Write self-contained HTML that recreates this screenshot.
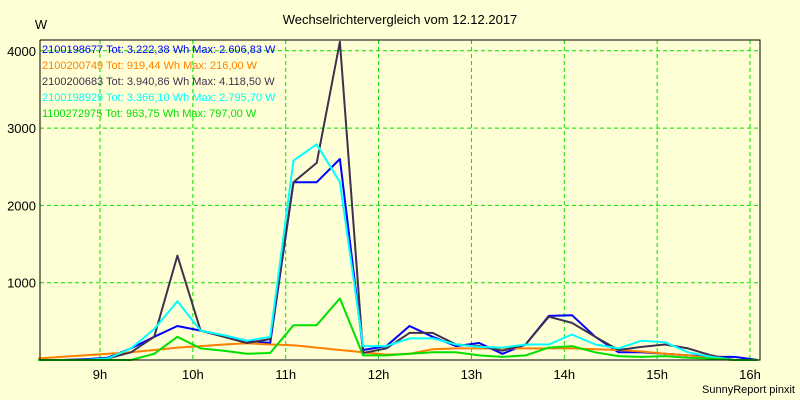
<!DOCTYPE html>
<html><head><meta charset="utf-8"><style>
html,body{margin:0;padding:0;background:#ffffd5;}
svg{display:block;font-family:"Liberation Sans",sans-serif;}
</style></head><body>
<svg id="chart" width="800" height="400" viewBox="0 0 800 400">
<rect x="0" y="0" width="800" height="400" fill="#ffffd5"/>
<text x="400" y="24" font-size="13" text-anchor="middle">Wechselrichtervergleich vom 12.12.2017</text>
<text x="41" y="29" font-size="13" text-anchor="middle">W</text>
<g id="grid"></g>
<g id="series"></g>
<g id="axes"></g>
<g id="legend"></g>
<text x="795" y="393" font-size="11" text-anchor="end">SunnyReport pinxit</text>
</svg>
<script>
const startHour = 8 + 20/60;
const stepHour = 0.25;
const xTicks = [9,10,11,12,13,14,15,16];
const xTickLabels = ["9h","10h","11h","12h","13h","14h","15h","16h"];
const yTicks = [1000,2000,3000,4000];
const seriesNames = ["2100198677","2100200749","2100200683","2100198929","1100272975"];
const legendTexts = ["Tot: 3.222,38 Wh Max: 2.606,83 W","Tot: 919,44 Wh Max: 216,00 W","Tot: 3.940,86 Wh Max: 4.118,50 W","Tot: 3.366,10 Wh Max: 2.795,70 W","Tot: 963,75 Wh Max: 797,00 W"];
const blueValues = [0,0,10,30,150,300,440,380,320,250,220,2300,2300,2600,130,180,440,300,180,220,80,200,570,580,300,100,100,80,60,40,40,0];
const orangeValues = [20,40,60,80,100,130,160,180,200,216,200,190,160,130,100,70,80,140,150,150,150,150,150,150,140,130,110,80,60,20,0,0];
const purpleValues = [0,0,0,20,100,300,1350,380,300,220,270,2300,2550,4118,90,150,350,350,200,180,120,200,560,480,300,130,170,200,150,60,0,0];
const cyanValues = [0,0,0,20,150,400,760,380,320,250,300,2580,2790,2300,180,180,280,280,200,170,160,200,200,330,200,150,250,230,100,40,0,0];
const greenValues = [0,0,0,0,0,80,300,150,120,80,90,450,450,797,60,60,80,100,100,60,40,60,160,180,100,50,40,50,30,20,0,0];

const colors = ["#0000ff","#ff8000","#403050","#00ffff","#00e000"];
const allSeries = [blueValues,orangeValues,purpleValues,cyanValues,greenValues];
const seriesKeys = ["blue","orange","purple","cyan","green"];
const NS = "http://www.w3.org/2000/svg";
const L=40,R=760,T=40,B=360;
function xScale(h){return 100+(h-9)*92.86;}
function yScale(v){return B-v*0.0773;}
function mk(tag,attrs,parent){const e=document.createElementNS(NS,tag);for(const k in attrs)e.setAttribute(k,attrs[k]);parent.appendChild(e);return e;}
const grid=document.getElementById('grid'),axes=document.getElementById('axes'),sg=document.getElementById('series'),lg=document.getElementById('legend');
yTicks.forEach(v=>{const y=yScale(v);
 const l=mk('line',{x1:L,x2:R,y1:y,y2:y,stroke:'#00e000','stroke-dasharray':'4,3'},grid);
 
 
 const t=mk('text',{x:L-4,y:y+5,'font-size':13,'text-anchor':'end'},axes);t.textContent=v;
 
 
});
xTicks.forEach((h,i)=>{const x=xScale(h);
 const l=mk('line',{x1:x,x2:x,y1:T,y2:B,stroke:'#00e000','stroke-dasharray':'4,3'},grid);
 
 
 const t=mk('text',{x:x,y:379,'font-size':13,'text-anchor':'middle'},axes);t.textContent=xTickLabels[i];
 
 
});
const frame=mk('path',{d:`M${L},${T}V${B}H${R}V${T}H${L}`,fill:'none',stroke:'#000','stroke-width':1},axes);


allSeries.forEach((vals,si)=>{
 const pts=vals.map((v,i)=>xScale(startHour+i*stepHour).toFixed(1)+','+yScale(v).toFixed(1)).join(' ');
 const p=mk('polyline',{points:pts,fill:'none',stroke:colors[si],'stroke-width':2,'stroke-linejoin':'round'},sg);
 
 
});
seriesNames.forEach((n,i)=>{
 const t=mk('text',{x:42,y:53+i*16,'font-size':11,fill:colors[i]},lg);
 t.textContent=n+' '+legendTexts[i];
 
 
});
</script>
</body></html>
